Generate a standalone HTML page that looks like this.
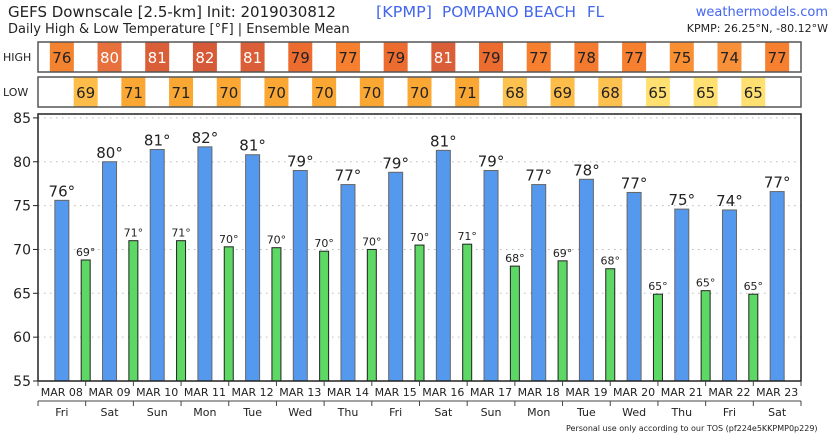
<!DOCTYPE html>
<html><head><meta charset="utf-8"><style>
body{margin:0;background:#fff;}
svg{display:block;font-family:"DejaVu Sans","Liberation Sans",sans-serif;}
</style></head><body>
<svg id="s" width="840" height="434" xmlns="http://www.w3.org/2000/svg"></svg>
<script>
var s=document.getElementById('s');var h='';
var highs=[76,80,81,82,81,79,77,79,81,79,77,78,77,75,74,77];
var hv=[75.6,80,81.4,81.7,80.8,79,77.4,78.8,81.3,79,77.4,78,76.5,74.6,74.5,76.6];
var lows=[69,71,71,70,70,70,70,70,71,68,69,68,65,65,65];
var lv=[68.8,71,71,70.3,70.2,69.8,70,70.5,70.6,68.1,68.7,67.8,64.9,65.3,64.9];
var dates=['MAR 08','MAR 09','MAR 10','MAR 11','MAR 12','MAR 13','MAR 14','MAR 15','MAR 16','MAR 17','MAR 18','MAR 19','MAR 20','MAR 21','MAR 22','MAR 23'];
var days=['Fri','Sat','Sun','Mon','Tue','Wed','Thu','Fri','Sat','Sun','Mon','Tue','Wed','Thu','Fri','Sat'];
var L=38,R=801,W=(R-L)/16;
function y(v){return 381-(v-55)*8.77;}
function hc(t){return {82:'#d65a38',81:'#da5f38',80:'#e8703c',79:'#ec6c30',78:'#f47a30',77:'#f67f30',76:'#f3832f',75:'#f88f32',74:'#f8903a'}[t];}
function lc(t){return {71:'#fba733',70:'#fba733',69:'#fdbd48',68:'#fdc150',65:'#ffe070'}[t];}
h+='<text x="8" y="17" font-size="15" fill="#222">GEFS Downscale [2.5-km] Init: 2019030812</text>';
h+='<text x="8" y="33" font-size="13" fill="#222">Daily High &amp; Low Temperature [°F] | Ensemble Mean</text>';
h+='<text x="376" y="17" font-size="15" fill="#4466ee" textLength="56" lengthAdjust="spacingAndGlyphs">[KPMP]</text>';
h+='<text x="442" y="17" font-size="15" fill="#4466ee" textLength="134" lengthAdjust="spacingAndGlyphs">POMPANO BEACH</text>';
h+='<text x="587" y="17" font-size="15" fill="#4466ee" textLength="17" lengthAdjust="spacingAndGlyphs">FL</text>';
h+='<text x="828" y="16" font-size="13" fill="#4466ee" text-anchor="end">weathermodels.com</text>';
h+='<text x="828" y="32" font-size="11" fill="#222" text-anchor="end">KPMP: 26.25°N, -80.12°W</text>';
h+='<text x="3" y="61" font-size="11" fill="#222">HIGH</text><text x="3" y="96" font-size="11" fill="#222">LOW</text>';
for(var i=0;i<16;i++){var c=L+W*(i+0.5);
 h+='<rect x="'+(c-12)+'" y="42" width="24" height="30" fill="'+hc(highs[i])+'"/>';
 h+='<text x="'+c+'" y="63" font-size="15" text-anchor="middle" fill="'+(highs[i]>=80?'#fff':'#222')+'">'+highs[i]+'</text>';}
for(var i=0;i<15;i++){var c=L+W*(i+1);
 h+='<rect x="'+(c-12)+'" y="77" width="24" height="30" fill="'+lc(lows[i])+'"/>';
 h+='<text x="'+c+'" y="98" font-size="15" text-anchor="middle" fill="#222">'+lows[i]+'</text>';}
h+='<rect x="38" y="42" width="763" height="30" fill="none" stroke="#555" stroke-width="1.5"/>';
h+='<rect x="38" y="77" width="763" height="30" fill="none" stroke="#555" stroke-width="1.5"/>';
for(var v=55;v<=85;v+=5){var yy=y(v);
 if(v>55)h+='<line x1="38" x2="801" y1="'+yy+'" y2="'+yy+'" stroke="#bbb" stroke-dasharray="1.5,4.5"/>';
 h+='<line x1="33" x2="38" y1="'+yy+'" y2="'+yy+'" stroke="#222"/>';
 h+='<text x="31" y="'+(yy+5)+'" font-size="14" text-anchor="end" fill="#222">'+v+'</text>';}
for(var i=0;i<16;i++){var c=L+W*(i+0.5);
 h+='<rect x="'+(c-7)+'" y="'+y(hv[i])+'" width="14" height="'+(381-y(hv[i]))+'" fill="#5599ee" stroke="#666" stroke-width="1"/>';
 h+='<text x="'+c+'" y="'+(y(hv[i])-4)+'" font-size="15" text-anchor="middle" fill="#222">'+highs[i]+'°</text>';}
for(var i=0;i<15;i++){var c=L+W*(i+1);
 h+='<rect x="'+(c-4.5)+'" y="'+y(lv[i])+'" width="9" height="'+(381-y(lv[i]))+'" fill="#5dd865" stroke="#222" stroke-width="1"/>';
 h+='<text x="'+c+'" y="'+(y(lv[i])-4)+'" font-size="11" text-anchor="middle" fill="#222">'+lows[i]+'°</text>';}
h+='<rect x="38" y="114" width="763" height="267" fill="none" stroke="#222" stroke-width="1.5"/>';
h+='<line x1="38" x2="801" y1="401" y2="401" stroke="#444"/>';
for(var i=0;i<=16;i++){var x=L+W*i;
 h+='<line x1="'+x+'" x2="'+x+'" y1="381" y2="386" stroke="#444"/><line x1="'+x+'" x2="'+x+'" y1="401" y2="406" stroke="#444"/>';}
for(var i=0;i<16;i++){var c=L+W*(i+0.5);
 h+='<text x="'+c+'" y="396" font-size="11" text-anchor="middle" fill="#222">'+dates[i]+'</text>';
 h+='<text x="'+c+'" y="416" font-size="11" text-anchor="middle" fill="#222">'+days[i]+'</text>';}
h+='<text x="566" y="431" font-size="8" fill="#222">Personal use only according to our TOS (pf224e5KKPMP0p229)</text>';
s.innerHTML=h;
</script>
</body></html>
